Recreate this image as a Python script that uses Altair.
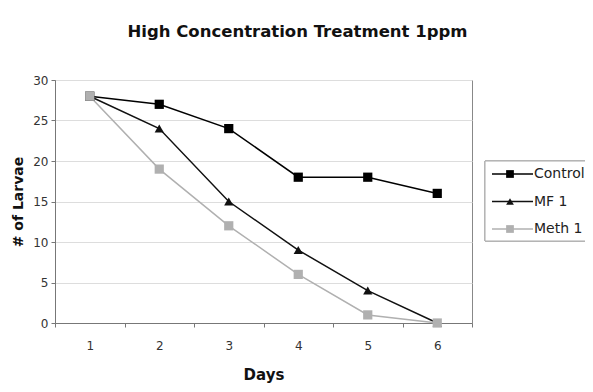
import altair as alt
import pandas as pd

days = [1, 2, 3, 4, 5, 6]
series = ["Control", "MF 1", "Meth 1"]
control = [28, 27, 24, 18, 18, 16]
mf1 = [28, 24, 15, 9, 4, 0]
meth1 = [28, 19, 12, 6, 1, 0]
y_ticks = [0, 5, 10, 15, 20, 25, 30]

rows = []
for name, vals in zip(series, [control, mf1, meth1]):
    for d, v in zip(days, vals):
        rows.append({"Day": d, "Larvae": v, "Series": name})
df = pd.DataFrame(rows)
leg = pd.DataFrame({"Series": series})

W, H = 417, 243
line_colors = ["#000000", "#111111", "#b0b0b0"]
point_colors = ["#000000", "#000000", "#a8a8a8"]
shapes = ["square", "triangle-up", "square"]
FONT = "DejaVu Sans"

xenc = alt.X("Day:O", title="Days",
             scale=alt.Scale(type="band", paddingInner=0, paddingOuter=0),
             bandPosition=0.5,
             axis=alt.Axis(tickBand="extent", labelAngle=0,
                           grid=False, domainColor="#777777", tickColor="#777777",
                           tickSize=4, labelPadding=13, labelColor="#333333",
                           labelFontSize=12, titleFontSize=15, titleFontWeight="bold",
                           titlePadding=16, labelFont=FONT, titleFont=FONT,
                           titleColor="#111111"))
yenc = alt.Y("Larvae:Q", title="# of Larvae",
             scale=alt.Scale(domain=[0, 30], nice=False),
             axis=alt.Axis(values=y_ticks, gridColor="#dddddd", domainColor="#777777",
                           tickColor="#777777", tickSize=4, labelColor="#333333",
                           labelFontSize=12, labelPadding=3, titleFontSize=14,
                           titleFontWeight="bold", titlePadding=7,
                           labelFont=FONT, titleFont=FONT, titleColor="#111111"))

cscale_line = alt.Scale(domain=series, range=line_colors)
cscale_pt = alt.Scale(domain=series, range=point_colors)
sscale = alt.Scale(domain=series, range=shapes)

lines = alt.Chart(df).mark_line(strokeWidth=1.5).encode(
    x=xenc, y=yenc,
    color=alt.Color("Series:N", scale=cscale_line, legend=None),
)
points = alt.Chart(df).mark_point(filled=True, size=85, opacity=1).encode(
    x=xenc, y=yenc,
    color=alt.Color("Series:N", scale=cscale_pt, legend=None),
    shape=alt.Shape("Series:N", scale=sscale, legend=None),
)
data_layer = alt.layer(lines, points)

# custom legend
ly = alt.Y("Series:N", scale=alt.Scale(type="point", padding=0, domain=series,
                                       range=[94, 149]), axis=None)
box = alt.Chart(leg).mark_rect(fill="white", stroke="#aaaaaa", strokeWidth=1).encode(
    x=alt.value(430), x2=alt.value(540), y=alt.value(81), y2=alt.value(161))
leg_lines = alt.Chart(leg).mark_rule(strokeWidth=1.5).encode(
    x=alt.value(437), x2=alt.value(478), y=ly,
    color=alt.Color("Series:N", scale=cscale_line, legend=None))
leg_pts = alt.Chart(leg).mark_point(filled=True, size=60, opacity=1).encode(
    x=alt.value(455), y=ly,
    color=alt.Color("Series:N", scale=cscale_pt, legend=None),
    shape=alt.Shape("Series:N", scale=sscale, legend=None))
leg_text = alt.Chart(leg).mark_text(align="left", baseline="middle", fontSize=14,
                                    font=FONT, color="#222222").encode(
    x=alt.value(479), y=ly, text="Series:N")

legend_layer = alt.layer(box, leg_lines, leg_pts, leg_text)

chart = alt.layer(data_layer, legend_layer).resolve_scale(
    y="independent"
).properties(
    width=W, height=H,
    title=alt.TitleParams("High Concentration Treatment 1ppm", fontSize=16.5,
                          fontWeight="bold", font=FONT, anchor="middle",
                          offset=34, dx=34, color="#111111"),
    autosize=alt.AutoSizeParams(type="none"),
    padding={"left": 47, "top": 72, "right": 113, "bottom": 61},
).configure_view(stroke="#888888", strokeWidth=1)

chart.save("out.html", embed_options={"renderer": "svg", "actions": False})
